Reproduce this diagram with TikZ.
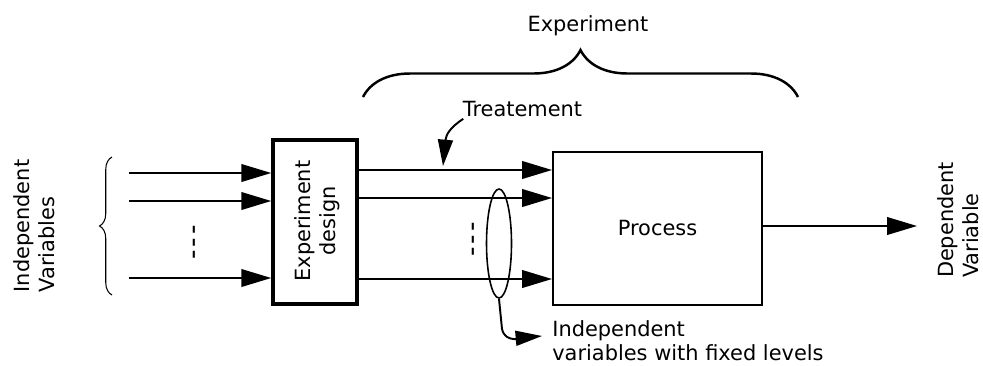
\documentclass[tikz,border=0pt]{standalone}
\usepackage{fontspec}
\setmainfont{DejaVu Sans}
\usetikzlibrary{arrows.meta,decorations.pathreplacing,shapes.geometric}
\newcommand{\gapdashes}{\fontsize{15}{15}\selectfont -\kern1.6pt-\kern1.6pt-}
\begin{document}
\begin{tikzpicture}[scale=0.2]
	\tikzstyle{every node}+=[inner sep=0pt, font=\fontsize{11.9}{14}\selectfont]
	\tikzstyle{arr}=[black, line width=1.1pt, -{Triangle[length=17pt,width=10pt]}]
	\tikzstyle{smallarr}=[black, line width=1.1pt, -{Triangle[length=15pt,width=8.5pt]}]
	\useasboundingbox (0,0) rectangle (98.3,-36.5);
	\draw (31.5,-22.2) node [draw, line width=2pt, minimum width=1.68cm, minimum height=3.28cm] (design) {};
	\draw (31.7,-22.1) node [rotate=90, align=center] (designlbl) {Experiment\\design};
	\draw (65.75,-22.85) node [draw, line width=1.1pt, minimum width=4.18cm, minimum height=3.06cm] (proc) {Process};
	\draw (3.4,-22.6) node [rotate=90, align=left] (indlbl) {Independent\\Variables};
	\draw (95.8,-22.0) node [rotate=90, align=left] (deplbl) {Dependent\\Variable};
	\draw (58.8,-2.55) node (explbl) {Experiment};
	\draw (52.25,-10.95) node (treat) {Treatement};
	\draw (55.2,-32.0) node [anchor=north west, align=left] (fixlbl) {Independent\\variables with fixed levels};
	\draw (19.7,-24.25) node [rotate=90] (gap1) {\gapdashes};
	\draw (47.6,-23.95) node [rotate=90] (gap2) {\gapdashes};
	\draw (49.9,-24.35) node [draw, ellipse, line width=0.9pt, minimum width=0.5cm, minimum height=2.18cm] (grp) {};
	\foreach \y [count=\i] in {-17.3,-20.1,-27.8} {
		\coordinate (in\i) at (12.9,\y);
		\draw [arr] (in\i) -- (in\i -| design.west);
	}
	\foreach \y [count=\i] in {-17.0,-19.8,-27.9} {
		\coordinate (mid\i) at (45,\y);
		\draw [arr] (mid\i -| design.east) -- (mid\i -| proc.west);
	}
	\coordinate (out) at (91.7,-22.6);
	\draw [arr] (proc.east |- out) -- (out);
	\coordinate (treattip) at (44.3,-16.6);
	\draw [smallarr] ([shift={(2pt,-3.4pt)}]treat.south west) .. controls (45.1,-12.7) and (44.6,-13.4) .. (treattip);
	\coordinate (fixtip) at (54.2,-33.6);
	\draw [smallarr] (grp.south) -- ++(0.3,-3.0) to [out=-80,in=185] (fixtip);
	\draw [decorate, decoration={brace, amplitude=0.25cm}, line width=0.6pt] (11.2,-29.5) -- (11.2,-15.7);
	\draw [decorate, decoration={brace, amplitude=0.94cm}, line width=1.4pt] (36.3,-9.7) -- (79.8,-9.7);
\end{tikzpicture}
\end{document}
